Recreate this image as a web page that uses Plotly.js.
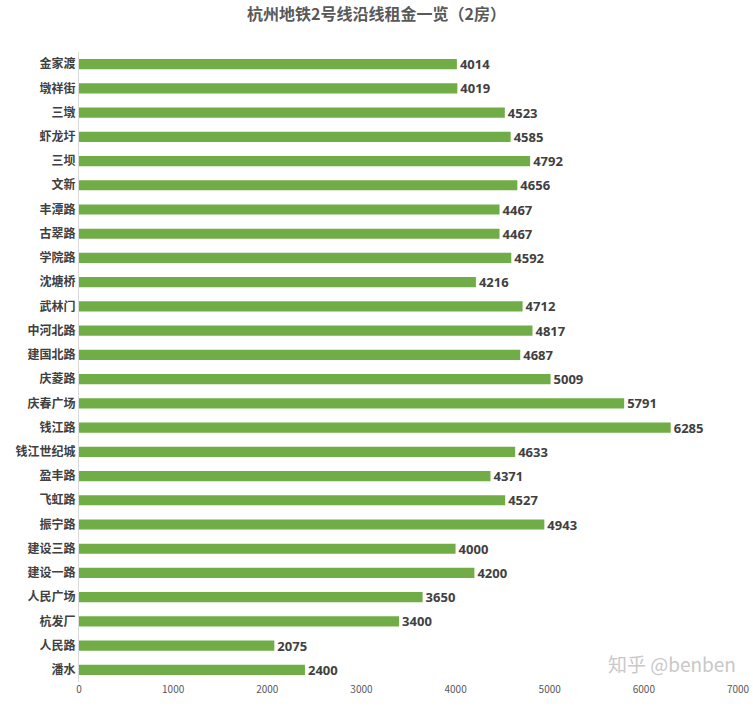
<!DOCTYPE html>
<html><head><meta charset="utf-8">
<script src="https://cdn.plot.ly/plotly-3.0.1.min.js"></script>
<style>body{margin:0;background:#fff}#c{width:753px;height:711px}</style>
</head><body><div id="c"></div>
<script>
const stations = ["金家渡","墩祥街","三墩","虾龙圩","三坝","文新","丰潭路","古翠路","学院路","沈塘桥","武林门","中河北路","建国北路","庆菱路","庆春广场","钱江路","钱江世纪城","盈丰路","飞虹路","振宁路","建设三路","建设一路","人民广场","杭发厂","人民路","潘水"];
const rents = [4014,4019,4523,4585,4792,4656,4467,4467,4592,4216,4712,4817,4687,5009,5791,6285,4633,4371,4527,4943,4000,4200,3650,3400,2075,2400];
const xTicks = [0,1000,2000,3000,4000,5000,6000,7000];
const titleText = "杭州地铁2号线沿线租金一览（2房）";
const font = "'Noto Sans CJK SC', 'Noto Sans', sans-serif";

Plotly.newPlot('c', [{
  type:'bar', orientation:'h', y:stations, x:rents,
  marker:{color:'#70AD47'},
  text:rents.map(String), textposition:'outside', cliponaxis:false, constraintext:'none',
  textfont:{family:"'Noto Sans', 'Noto Sans CJK SC', sans-serif", size:13, color:'#404040', weight:'bold'},
  hoverinfo:'none'
}], {
  width:753, height:711,
  margin:{l:79, r:15, t:52, b:29},
  paper_bgcolor:'#fff', plot_bgcolor:'#fff',
  bargap:0.58,
  title:{text:titleText, x:0.5, xanchor:'center', y:0.988, yanchor:'top',
    font:{family:font, size:16, color:'#595959', weight:'bold'}},
  xaxis:{range:[0,7000], tickvals:xTicks, ticktext:xTicks.map(String), showgrid:false, zeroline:false,
    showline:false, ticks:'', tickfont:{family:font, size:10, color:'#595959'}},
  yaxis:{autorange:'reversed', showgrid:false, showline:true, linecolor:'#D9D9D9', linewidth:1,
    ticks:'', ticklen:0, tickfont:{family:font, size:12, color:'#404040', weight:'bold'}},
  showlegend:false,
  annotations:[{text:'知乎 @benben', xref:'paper', yref:'paper', x:1, y:0.005, xanchor:'right', yanchor:'bottom',
    showarrow:false, font:{family:font, size:19, color:'#C8C8C8'}}]
}, {displayModeBar:false, staticPlot:true});
</script></body></html>
